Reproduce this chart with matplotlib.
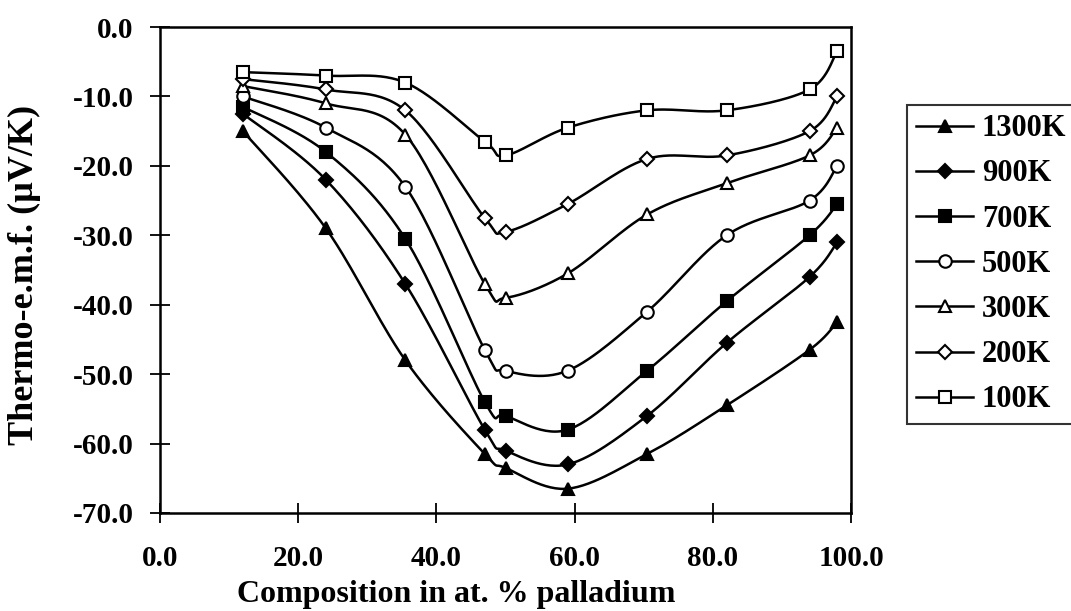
import numpy as np
import matplotlib
matplotlib.use("Agg")
import matplotlib.pyplot as plt

plt.rcParams['font.family'] = ['Liberation Serif', 'DejaVu Serif']
plt.rcParams['font.weight'] = 'bold'
plt.rcParams['axes.unicode_minus'] = False

# composition (at. % Pd)
comp = [12.0, 24.0, 35.5, 47.0, 50.0, 59.0, 70.5, 82.0, 94.0, 98.0]

# thermo-e.m.f. (uV/K) per temperature
t1300 = [-15.0, -29.0, -48.0, -61.5, -63.5, -66.5, -61.5, -54.5, -46.5, -42.5]
t900 = [-12.5, -22.0, -37.0, -58.0, -61.0, -63.0, -56.0, -45.5, -36.0, -31.0]
t700 = [-11.5, -18.0, -30.5, -54.0, -56.0, -58.0, -49.5, -39.5, -30.0, -25.5]
t500 = [-10.0, -14.5, -23.0, -46.5, -49.5, -49.5, -41.0, -30.0, -25.0, -20.0]
t300 = [-8.5, -11.0, -15.5, -37.0, -39.0, -35.5, -27.0, -22.5, -18.5, -14.5]
t200 = [-7.5, -9.0, -12.0, -27.5, -29.5, -25.5, -19.0, -18.5, -15.0, -10.0]
t100 = [-6.5, -7.0, -8.0, -16.5, -18.5, -14.5, -12.0, -12.0, -9.0, -3.5]

labels = ['1300K', '900K', '700K', '500K', '300K', '200K', '100K']
series = [t1300, t900, t700, t500, t300, t200, t100]
markers = ['^', 'D', 's', 'o', '^', 'D', 's']
filled = [True, True, True, False, False, False, False]
msizes = [9, 7, 8.5, 9, 9, 7, 8.5]


def smooth(x, y, n=30):
    # excel-like smoothed line (bezier through the points)
    p = np.column_stack([x, y]).astype(float)
    p = np.vstack([p[0], p, p[-1]])
    out = []
    t = np.linspace(0, 1, n)[:, None]
    for i in range(1, len(p) - 2):
        p0, p1, p2, p3 = p[i - 1], p[i], p[i + 1], p[i + 2]
        b1 = p1 + (p2 - p0) / 6.0
        b2 = p2 - (p3 - p1) / 6.0
        seg = ((1 - t) ** 3) * p1 + 3 * ((1 - t) ** 2) * t * b1 + 3 * (1 - t) * t ** 2 * b2 + t ** 3 * p2
        out.append(seg if i == 1 else seg[1:])
    out = np.vstack(out)
    return out[:, 0], out[:, 1]


fig = plt.figure(figsize=(10.71, 6.11), dpi=100)
ax = fig.add_axes([0.1494, 0.1604, 0.6452, 0.7954])

handles = []
for y, lab, m, f, ms in zip(series, labels, markers, filled, msizes):
    sx, sy = smooth(comp, y)
    ax.plot(sx, sy, color='black', lw=1.8, zorder=2)
    fc = 'black' if f else 'white'
    ax.plot(comp, y, ls='none', marker=m, ms=ms, mfc=fc, mec='black', mew=1.5, zorder=3)
    h, = ax.plot([], [], color='black', lw=1.8, marker=m, ms=ms, mfc=fc, mec='black', mew=1.5, label=lab)
    handles.append(h)

ax.set_xlim(0, 100)
ax.set_ylim(-70, 0)
ax.set_xticks(np.arange(0, 101, 20))
ax.set_yticks(np.arange(-70, 1, 10))
ax.xaxis.set_major_formatter(matplotlib.ticker.FormatStrFormatter('%.1f'))
ax.yaxis.set_major_formatter(matplotlib.ticker.FormatStrFormatter('%.1f'))
ax.tick_params(axis='both', direction='inout', length=14, width=1.3, labelsize=21)
ax.tick_params(axis='x', pad=16)
ax.tick_params(axis='y', pad=12)
for s in ax.spines.values():
    s.set_linewidth(1.8)

ax.set_xlabel('Composition in at. % palladium', fontsize=23, fontweight='bold')
ax.set_ylabel('Thermo-e.m.f. (\u00b5V/K)', fontsize=26, fontweight='bold')
ax.xaxis.set_label_coords(0.428, -0.138)
ax.yaxis.set_label_coords(-0.172, 0.49)

leg = fig.legend(handles=handles, loc='upper left', bbox_to_anchor=(0.847, 0.828),
                 frameon=True, fancybox=False, edgecolor='black', fontsize=22,
                 handlelength=1.85, handletextpad=0.3, labelspacing=0.53, numpoints=1,
                 borderpad=0.3, borderaxespad=0)
leg.get_frame().set_linewidth(1.5)

fig.savefig('out.png', dpi=100)
